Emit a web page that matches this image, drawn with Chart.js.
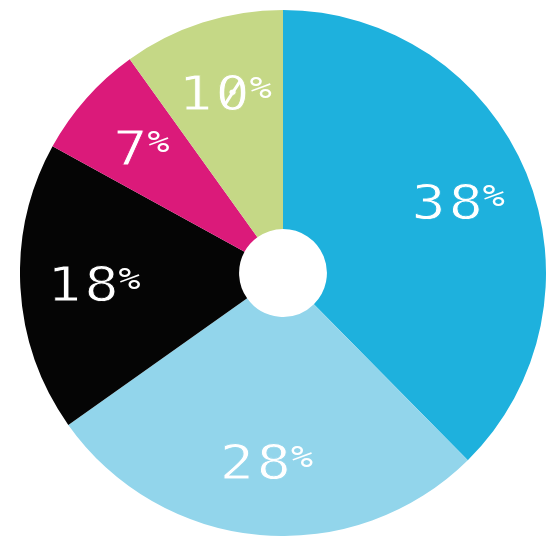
<!DOCTYPE html>
<html>
<head>
<meta charset="utf-8">
<script src="https://cdn.jsdelivr.net/npm/chart.js@4"></script>
<style>
    body { margin: 0; background: #fff; }
    #wrap { position: absolute; left: 20px; top: 10px; width: 526px; height: 526px; }
</style>
</head>
<body>
<div id="wrap"><canvas id="pieChart"></canvas></div>
<script>
// Chart data (clockwise from the top)
const categories = ['A', 'B', 'C', 'D', 'E'];
const shares = [37.6, 27.6, 17.8, 7.1, 9.9];
const sliceColors = ['#1eb1dd', '#92d5eb', '#050505', '#db1a7a', '#c5d886'];

const LABEL_FONT = '"DejaVu Sans Mono", monospace';
const NUM_SIZE = 48;
const PCT_SIZE = 31;
const STRETCH = 1.18; // labels are drawn a bit wider than the font

// Draw "NN%" labels with a small raised percent sign
const percentLabels = {
    id: 'percentLabels',
    afterDatasetsDraw(chart) {
        const ctx = chart.ctx;
        const meta = chart.getDatasetMeta(0);
        meta.data.forEach((arc, i) => {
            const p = arc.getProps(['x', 'y', 'startAngle', 'endAngle', 'outerRadius'], true);
            const mid = (p.startAngle + p.endAngle) / 2;
            const r = p.outerRadius * 0.72;
            const cx = p.x + Math.cos(mid) * r;
            const cy = p.y + Math.sin(mid) * r;

            const num = String(Math.round(shares[i]));
            const spacing = 3;

            ctx.save();
            ctx.textBaseline = 'alphabetic';
            ctx.textAlign = 'left';
            ctx.font = NUM_SIZE + 'px ' + LABEL_FONT;
            const adv = ctx.measureText('0').width * STRETCH;
            const numW = adv * num.length + spacing * (num.length - 1);
            ctx.font = PCT_SIZE + 'px ' + LABEL_FONT;
            const pctW = ctx.measureText('%').width * STRETCH;
            const gap = 0;
            const total = numW + gap + pctW;

            const x0 = cx - total / 2;
            const digitH = NUM_SIZE * 0.729;
            const base = cy + digitH / 2;

            // digits, one by one so the spacing can be set
            ctx.font = NUM_SIZE + 'px ' + LABEL_FONT;
            ctx.lineWidth = 0.8;
            ctx.strokeStyle = sliceColors[i];
            ctx.fillStyle = '#fff';
            for (let k = 0; k < num.length; k++) {
                const x = x0 + k * (adv + spacing);
                ctx.save();
                ctx.translate(x, base);
                ctx.scale(STRETCH, 1);
                ctx.fillText(num[k], 0, 0);
                ctx.strokeText(num[k], 0, 0);
                ctx.restore();
                if (num[k] === '0') {
                    // slashed zero
                    const zx = x + adv / 2;
                    ctx.save();
                    ctx.strokeStyle = '#fff';
                    ctx.lineWidth = 3;
                    ctx.beginPath();
                    ctx.moveTo(zx - adv * 0.24, base - digitH * 0.14);
                    ctx.lineTo(zx + adv * 0.24, base - digitH * 0.86);
                    ctx.stroke();
                    ctx.restore();
                }
            }

            // raised percent sign, top aligned with the digits
            ctx.font = PCT_SIZE + 'px ' + LABEL_FONT;
            ctx.save();
            ctx.translate(x0 + numW + gap, base - digitH + PCT_SIZE * 0.729);
            ctx.scale(STRETCH, 1);
            ctx.fillText('%', 0, 0);
            ctx.restore();
            ctx.restore();
        });
    }
};

new Chart(document.getElementById('pieChart'), {
    type: 'doughnut',
    data: {
        labels: categories,
        datasets: [{
            data: shares,
            backgroundColor: sliceColors,
            borderWidth: 0,
            offset: 0,
            hoverOffset: 0
        }]
    },
    options: {
        responsive: true,
        maintainAspectRatio: false,
        animation: false,
        cutout: '16.7%',
        layout: { padding: 0 },
        plugins: {
            legend: { display: false },
            tooltip: { enabled: false }
        }
    },
    plugins: [percentLabels]
});
</script>
</body>
</html>
